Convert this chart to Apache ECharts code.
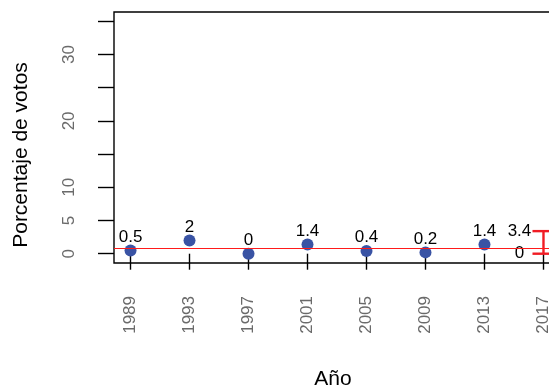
<!DOCTYPE html>
<html>
<head>
<meta charset="utf-8">
<script src="https://cdn.jsdelivr.net/npm/echarts@6/dist/echarts.min.js"></script>
<style>
  html, body { margin: 0; padding: 0; overflow: hidden; background: #fff; }
  #chart { width: 570px; height: 390px; }
</style>
</head>
<body>
<div id="chart"></div>
<script>
// Vote share per election year
const years = [1989, 1993, 1997, 2001, 2005, 2009, 2013];
const votes = [0.5, 2, 0, 1.4, 0.4, 0.2, 1.4];

// Poll range for the next election
const rangeYear = 2017;
const rangeLow = 0;
const rangeHigh = 3.4;

// Axis ticks and the labels that are printed
const xTicks = [1989, 1993, 1997, 2001, 2005, 2009, 2013, 2017];
const yTicks = [0, 5, 10, 15, 20, 25, 30, 35];
const yTickLabels = [0, 5, 10, 20, 30];

const meanVote = votes.reduce((a, b) => a + b, 0) / votes.length;

const FONT = 'Liberation Sans, Arial, Helvetica, sans-serif';
const chart = echarts.init(document.getElementById('chart'), null, { renderer: 'canvas' });

chart.setOption({
  animation: false,
  backgroundColor: '#ffffff',
  grid: {
    show: true,
    left: 114, top: 12, right: 10, bottom: 127,
    borderColor: '#000', borderWidth: 1.4,
    backgroundColor: 'transparent'
  },
  xAxis: {
    type: 'value',
    min: 1987.88, max: 2018.12,
    axisLine: { show: false },
    splitLine: { show: false },
    axisTick: { show: true, customValues: xTicks, length: 16, lineStyle: { color: '#000', width: 1.4 } },
    axisLabel: {
      customValues: xTicks, rotate: 90, margin: 33,
      fontSize: 17, fontFamily: FONT, color: '#6a6a6a',
      formatter: v => String(v)
    }
  },
  yAxis: {
    type: 'value',
    min: -1.4, max: 36.4,
    axisLine: { show: false },
    splitLine: { show: false },
    axisTick: { show: true, customValues: yTicks, length: 16, lineStyle: { color: '#000', width: 1.4 } },
    axisLabel: {
      customValues: yTicks, rotate: 90, margin: 36,
      fontSize: 17, fontFamily: FONT, color: '#6a6a6a',
      formatter: v => (yTickLabels.indexOf(v) >= 0 ? String(v) : '')
    }
  },
  graphic: [
    {
      type: 'text', x: 21, y: 155, rotation: Math.PI / 2,
      style: { text: 'Porcentaje de votos', font: '21px ' + FONT, fill: '#000', textAlign: 'center', textVerticalAlign: 'middle' }
    },
    {
      type: 'text', x: 333, y: 379,
      style: { text: 'Año', font: '21px ' + FONT, fill: '#000', textAlign: 'center', textVerticalAlign: 'middle' }
    }
  ],
  series: [
    {
      type: 'scatter',
      data: years.map((y, i) => [y, votes[i]]),
      symbol: 'circle',
      symbolSize: 12,
      itemStyle: { color: '#3953a4', opacity: 1 },
      label: {
        show: true, position: 'top', distance: -1,
        fontSize: 17, fontFamily: FONT, color: '#000',
        formatter: p => String(p.value[1])
      },
      markLine: {
        silent: true, symbol: 'none',
        label: { show: false },
        lineStyle: { color: '#ff1a1a', width: 1, type: 'solid', opacity: 1 },
        data: [{ yAxis: meanVote }]
      },
      z: 3
    },
    {
      type: 'custom',
      data: [[rangeYear, rangeLow, rangeHigh]],
      clip: false,
      renderItem: (params, api) => {
        const lo = api.coord([api.value(0), api.value(1)]);
        const hi = api.coord([api.value(0), api.value(2)]);
        const cap = 11;
        const ls = { stroke: '#f01c24', lineWidth: 2.4 };
        const lx = lo[0] - 24;
        return {
          type: 'group',
          children: [
            { type: 'line', shape: { x1: lo[0], y1: lo[1], x2: hi[0], y2: hi[1] }, style: ls },
            { type: 'line', shape: { x1: lo[0] - cap, y1: lo[1], x2: lo[0] + cap, y2: lo[1] }, style: ls },
            { type: 'line', shape: { x1: hi[0] - cap, y1: hi[1], x2: hi[0] + cap, y2: hi[1] }, style: ls },
            { type: 'text', x: lx, y: hi[1], style: { text: String(api.value(2)), font: '17px ' + FONT, fill: '#000', textAlign: 'center', textVerticalAlign: 'middle' } },
            { type: 'text', x: lx, y: lo[1], style: { text: String(api.value(1)), font: '17px ' + FONT, fill: '#000', textAlign: 'center', textVerticalAlign: 'middle' } }
          ]
        };
      },
      z: 4
    }
  ]
});
</script>
</body>
</html>
